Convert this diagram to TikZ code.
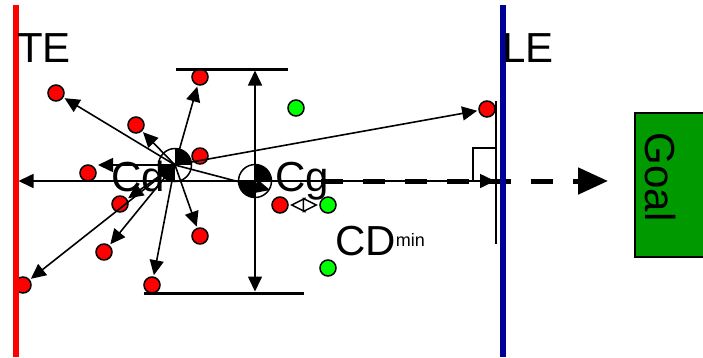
\documentclass[tikz,border=0pt]{standalone}
\usepackage{fontspec}
\setmainfont{Liberation Sans}
\usetikzlibrary{arrows.meta}
\definecolor{leblue}{RGB}{0,0,153}
\definecolor{goalgreen}{RGB}{0,153,0}
\definecolor{dotgreen}{RGB}{0,255,0}

\begin{document}
\begin{tikzpicture}[x=1pt,y=-1pt,
    dot/.style={circle,draw,line width=1.5pt,minimum size=16pt,inner sep=0pt,outer sep=2pt},
    reddot/.style={dot,fill=red},
    greendot/.style={dot,fill=dotgreen},
    centre/.style={circle,draw,fill=white,line width=1.5pt,minimum size=33pt,inner sep=0pt,
        path picture={\fill[black] (path picture bounding box.center) rectangle (path picture bounding box.north east);
                      \fill[black] (path picture bounding box.center) rectangle (path picture bounding box.south west);}},
    vec/.style={line width=1.6pt,-{Triangle[length=15pt,width=14pt]}},
    dvec/.style={line width=1.5pt,{Triangle[open,fill=white,length=15.5pt,width=15pt]}-{Triangle[open,fill=white,length=15.5pt,width=15pt]}},
    dashvec/.style={line width=5pt,dash pattern=on 22pt off 20pt,-{Triangle[length=30pt,width=26pt]}},
    bar/.style={line width=3pt},
    edgeline/.style={line width=5.5pt},
    lbl/.style={font=\fontsize{42}{42}\selectfont,inner sep=0pt}]

    \useasboundingbox (0,0) rectangle (703,357);

    % particles
    \foreach \n/\x/\y in {1/56/93, 2/136/125, 3/200/77, 4/200/156, 5/88/173, 6/120/204,
        7/104/252, 8/23/285, 9/152/285, 10/200/236, 11/280/205, 12/487/109}
      \node[reddot] (r\n) at (\x,\y) {};
    \foreach \n/\x/\y in {1/296/108, 2/328/205, 3/328/268}
      \node[greendot] (g\n) at (\x,\y) {};

    % centres
    \node[centre] (cd) at (175,165) {};
    \node[centre] (cg) at (255,181) {};

    % bounds
    \draw[bar] (176,69) -- (288,69);
    \draw[bar] (144,293) -- (304,293);
    \coordinate (up) at (255,70.5);
    \coordinate (down) at (255,291.5);
    \coordinate (tetip) at (18.5,181);
    \coordinate (letip) at (495,181);
    \coordinate (cgtip) at (270,190);

    % vectors from Cd
    \foreach \n in {1,2,3,6,7,8,9,10,12}
      \draw[vec] (cd.center) -- (r\n);
    \draw[vec] (cd.center) -- (cd.center -| r5.east);
    \draw[vec] (cd.center) -- (cgtip);

    % vectors from Cg
    \draw[vec] (cg.center) -- (up);
    \draw[vec] (cg.center) -- (down);
    \draw[vec] (cg.center) -- (tetip);
    \draw[vec] (cg.center) -- (letip);
    \draw[dvec] (r11.east) -- (g2.west);

    % heading to goal
    \coordinate (dstart) at (321,181);
    \coordinate (goaltip) at (608,181);
    \draw[dashvec] (dstart) -- (goaltip);

    % leading edge mark
    \draw[line width=1.5pt] (473,181) |- (496,148);
    \draw[line width=2.5pt] (496,101) -- (496,244);

    % edges
    \draw[edgeline,red] (16,5) -- (16,357);
    \draw[edgeline,leblue] (503,5) -- (503,357);

    % labels
    \node[lbl,anchor=base west] (telbl) at (17,62) {TE};
    \node[lbl,anchor=base west] (lelbl) at (502,62) {LE};
    \node[lbl,anchor=base west] (cdlbl) at (111,191) {Cd};
    \node[lbl,anchor=base west] (cglbl) at (275,191) {Cg};
    \node[lbl,anchor=base west] (cdmin) at (335,255) {CD\raisebox{9pt}{\fontsize{18}{18}\selectfont min}};

    % goal
    \node[draw,fill=goalgreen,line width=1.5pt,minimum width=72pt,minimum height=144pt,inner sep=0pt] (goal) at (671,185) {};
    \node[lbl,rotate=-90] (goallbl) at (661,177) {Goal};
\end{tikzpicture}
\end{document}
